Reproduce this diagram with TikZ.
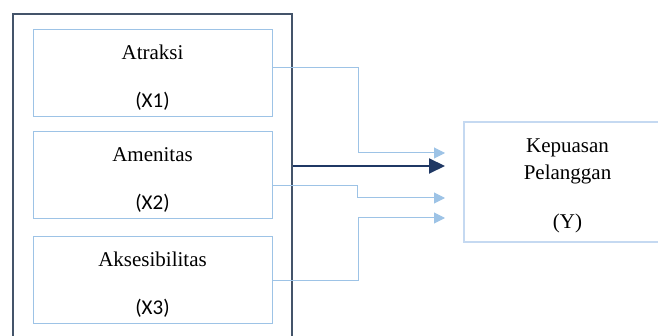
\documentclass[tikz,border=0pt]{standalone}
\usepackage{fontspec}
\setmainfont{Liberation Serif}
\newfontfamily\calibrifont{Carlito}
\usetikzlibrary{arrows.meta,calc,fit}
\definecolor{FrameClr}{HTML}{44546A}
\definecolor{BoxClr}{HTML}{9DC3E6}
\definecolor{TargetClr}{HTML}{C5D9F1}
\definecolor{MainClr}{HTML}{1F3864}

\begin{document}
\begin{tikzpicture}[x=0.5pt,y=-0.5pt,
  varbox/.style={draw=BoxClr,line width=0.5pt,minimum width=119.5pt,minimum height=43.5pt,inner sep=0pt},
  targetbox/.style={draw=TargetClr,line width=1pt,minimum width=103.5pt,minimum height=60pt,inner sep=0pt},
  framebox/.style={draw=FrameClr,line width=1pt,inner sep=0pt},
  txt/.style={font=\fontsize{10.5}{12.6}\selectfont,inner sep=0pt,anchor=base},
  code/.style={font=\calibrifont\fontsize{10.5}{12.6}\selectfont,inner sep=0pt,anchor=base},
  link/.style={draw=BoxClr,line width=0.5pt,-{Triangle[length=5.5pt,width=5.5pt]}},
  mainlink/.style={draw=MainClr,line width=1pt,-{Triangle[length=8pt,width=7.5pt]}}]
\useasboundingbox (0,0) rectangle (658,336);

\node[framebox,fit={(13,14.5) (292,350)}] (frame) {};

\foreach \id/\name/\code/\y in {atraksi/Atraksi/X1/73,amenitas/Amenitas/X2/174.8,aksesibilitas/Aksesibilitas/X3/279.7}{
  \node[varbox] (\id) at (152.5,\y) {};
  \node[txt] (\id Name) at ($(\id.north)+(0,31)$) {\name};
  \node[code] (\id Code) at ($(\id.north)+(0,79)$) {(\code)};
}

\node[targetbox] (kepuasan) at (567.5,182.5) {};
\node[txt] (kepuasanName) at ($(kepuasan.north)+(0,31.5)$) {Kepuasan};
\node[txt] (kepuasanName2) at ($(kepuasan.north)+(0,58)$) {Pelanggan};
\node[txt] (kepuasanCode) at ($(kepuasan.north)+(0,106.5)$) {(Y)};

\coordinate (tip0) at (445,166);
\coordinate (tip1) at (445,153);
\coordinate (tip2) at (445,198);
\coordinate (tip3) at (445,218);

\draw[link] (atraksi.east |- 0,68) -- (358,68) |- (tip1);
\draw[link] (amenitas.east |- 0,186) -- (357,186) |- (tip2);
\draw[link] (aksesibilitas.east |- 0,280) -- (358,280) |- (tip3);
\draw[mainlink] (frame.east |- tip0) -- (tip0);

\end{tikzpicture}
\end{document}
